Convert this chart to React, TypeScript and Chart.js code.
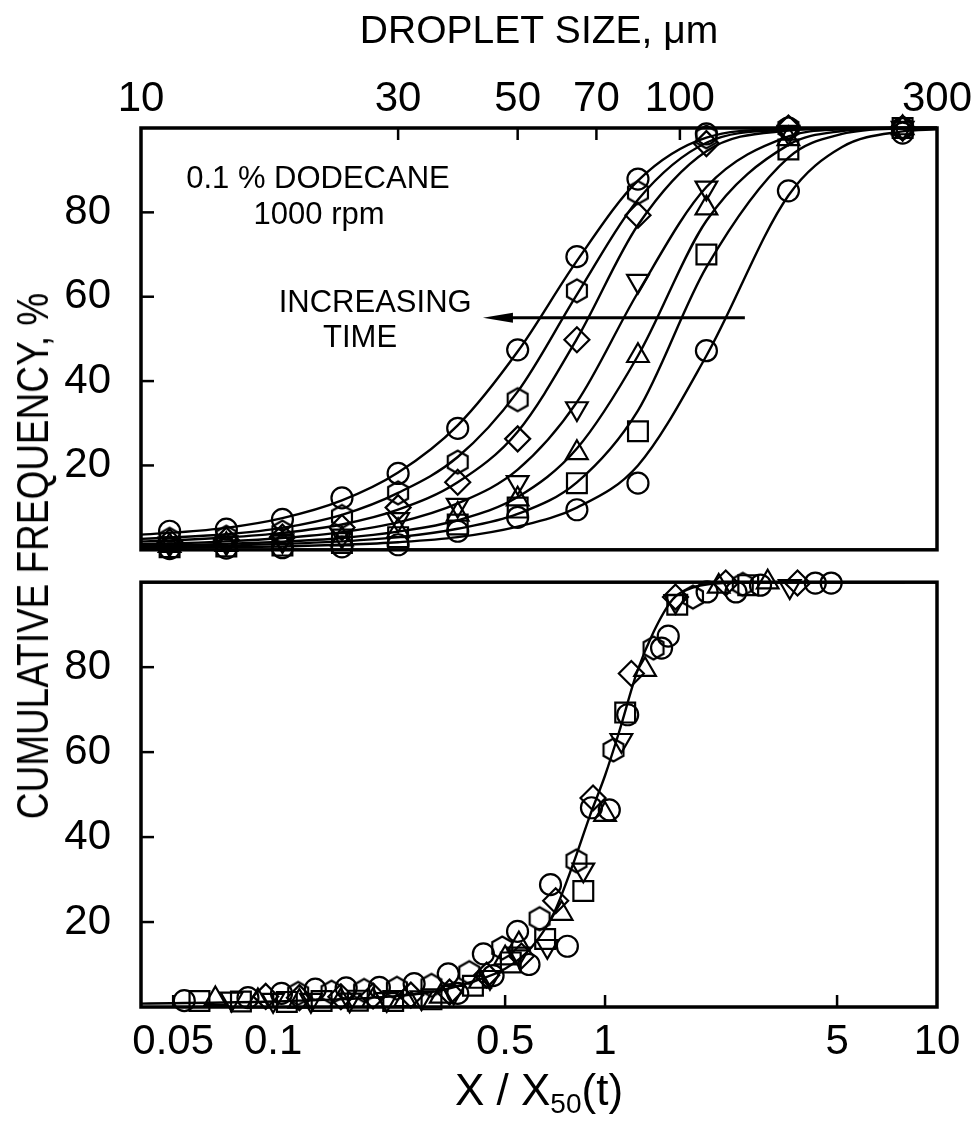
import React, { useEffect, useRef } from "react";
import { Chart, registerables } from "chart.js";

Chart.register(...registerables);

// ---------------- axis ticks ----------------
const TOP_X_TICKS = [10, 30, 50, 70, 100, 300];
const TOP_X_MARKS = [30, 50, 70, 100];
const BOTTOM_X_TICKS = [0.05, 0.1, 0.5, 1, 5, 10];
const BOTTOM_X_MARKS = [0.05, 0.1, 0.5, 1, 5];
const Y_TICKS = [20, 40, 60, 80];

// ---------------- top panel: measured points (droplet size, µm) ----------------
const SIZES = [11.3, 14.4, 18.3, 23.6, 30, 38.7, 50, 64.4, 83.6, 112, 159, 259];
const TOP_CIRCLE_A = [4.4, 4.9, 7.2, 12.3, 18.1, 28.8, 47.4, 69.5, 87.9, 98.6, 100, 100];
const TOP_HEXAGON = [2.5, 3.0, 4.2, 7.9, 13.5, 20.8, 35.6, 61.4, 84.7, 97.9, 100, 100];
const TOP_DIAMOND = [1.9, 2.3, 3.0, 5.3, 10.0, 16.0, 26.3, 49.8, 79.3, 96.3, 100, 100];
const TOP_DOWN_TRI = [1.4, 1.7, 2.2, 3.3, 7.2, 10.6, 16.0, 33.5, 63.7, 85.8, 99, 100];
const TOP_UP_TRI = [1.0, 1.2, 1.6, 2.5, 4.5, 8.4, 12.0, 23.0, 46.0, 81.0, 97.4, 100];
const TOP_SQUARE = [0.6, 0.8, 1.0, 1.6, 3.0, 6.0, 10.0, 15.8, 28.1, 70.0, 94.9, 100];
const TOP_CIRCLE_G = [0.3, 0.4, 0.5, 0.7, 1.2, 4.4, 7.7, 9.5, 15.8, 47.2, 85.1, 98.8];

// ---------------- top panel: fitted curves ----------------
const CURVE_X = [10, 11.3, 14.4, 18.3, 23.6, 30, 38.7, 50, 64.4, 83.6, 112, 159, 200, 259, 300];
const CURVE_A = [3.6, 4.0, 5.2, 7.5, 11.7, 18.3, 29.5, 47, 68.5, 87.5, 97.7, 99.8, 100, 100, 100];
const CURVE_B = [2.6, 2.9, 3.7, 5.2, 8.3, 13.5, 22, 37.5, 60.5, 83, 96.5, 99.6, 99.9, 100, 100];
const CURVE_C = [2.0, 2.2, 2.9, 4.0, 6.0, 9.5, 16, 28, 50, 77, 94.5, 99.4, 99.9, 100, 100];
const CURVE_D = [1.4, 1.5, 2.0, 2.8, 4.2, 6.5, 11, 19, 35, 61, 86, 98, 99.7, 100, 100];
const CURVE_E = [1.0, 1.1, 1.4, 1.9, 2.8, 4.3, 7, 12.5, 24, 46, 78, 96, 99.3, 100, 100];
const CURVE_F = [0.7, 0.8, 1.0, 1.4, 2.0, 3.0, 5.0, 8.5, 16, 33, 67, 93, 98.6, 99.9, 100];
const CURVE_G = [0.4, 0.45, 0.6, 0.8, 1.2, 1.8, 3.0, 5.5, 10, 20, 46, 84, 95.5, 99.2, 99.7];

// ---------------- bottom panel: normalised points (X / X50) ----------------
const BOT_CIRCLE_U = [0.054, 0.084, 0.106, 0.134, 0.166, 0.209, 0.266, 0.337, 0.36, 0.43, 0.46, 0.545, 0.59, 0.685, 0.77, 0.91, 1.03, 1.17, 1.48, 1.55, 2.03, 2.48, 2.94, 4.3, 4.8];
const BOT_CIRCLE_V = [1.5, 2.2, 3.2, 4.2, 4.5, 4.6, 5.5, 7.8, 3.2, 12.5, 7.4, 17.8, 10, 28.8, 14.3, 46.9, 46.4, 68.8, 84.5, 87.3, 97.7, 97.7, 99.3, 99.8, 99.8];
const BOT_HEX_U = [0.119, 0.15, 0.188, 0.236, 0.3, 0.39, 0.49, 0.635, 0.82, 1.06, 1.4, 1.84, 2.6];
const BOT_HEX_V = [3.2, 3.5, 3.9, 4.4, 5.1, 8.1, 13.9, 20.8, 34.4, 60.5, 84.5, 96.5, 99.5];
const BOT_DIAMOND_U = [0.095, 0.12, 0.16, 0.2, 0.26, 0.34, 0.44, 0.56, 0.71, 0.92, 1.2, 1.63, 2.31, 3.8];
const BOT_DIAMOND_V = [2.5, 2.2, 2.4, 2.6, 2.8, 3.5, 7.5, 12, 25, 49.2, 78.5, 96.5, 99.8, 99.8];
const BOT_DOWN_U = [0.075, 0.1, 0.13, 0.17, 0.22, 0.28, 0.35, 0.45, 0.55, 0.67, 0.86, 1.12, 1.63, 3.6];
const BOT_DOWN_V = [1.9, 1.6, 1.6, 1.7, 1.8, 2.2, 3.5, 7.0, 12.5, 14.3, 32.3, 62.8, 95.5, 99];
const BOT_UP_U = [0.067, 0.09, 0.12, 0.16, 0.2, 0.25, 0.32, 0.42, 0.5, 0.55, 0.74, 1.0, 1.32, 2.2, 3.09];
const BOT_UP_V = [1.9, 1.4, 1.3, 1.5, 1.5, 1.7, 2.5, 6.0, 11.5, 14.8, 22, 45.3, 79.4, 99, 100];
const BOT_SQUARE_U = [0.06, 0.08, 0.11, 0.14, 0.18, 0.23, 0.3, 0.4, 0.52, 0.66, 0.86, 1.15, 1.65, 2.7];
const BOT_SQUARE_V = [1.4, 1.3, 1.2, 1.4, 1.5, 1.4, 1.8, 5.0, 10.5, 16, 27.3, 69.3, 94.7, 99.3];

// ---------------- bottom panel: master curve ----------------
const BOT_CURVE_U = [0.04, 0.1, 0.2, 0.3, 0.4, 0.5, 0.6, 0.7, 0.8, 0.9, 1.0, 1.1, 1.25, 1.4, 1.6, 1.8, 2.0, 2.5, 3, 5, 8];
const BOT_CURVE_V = [0.8, 1.3, 2.2, 3.5, 6, 9, 14, 22, 33.5, 45, 54.5, 64.5, 79, 88.3, 96, 98.5, 99.4, 99.9, 100, 100, 100];

// ---------------- styling ----------------
const AXIS_FONT = "'Liberation Sans', Arial, Helvetica, sans-serif";
const NOTE_FONT = "'Liberation Sans', Arial, Helvetica, sans-serif";
const INK = "#000";

const NOTES = [
  { text: "0.1 % DODECANE", x: 21.3, y: 87.7 },
  { text: "1000 rpm", x: 21.4, y: 79.3 },
  { text: "INCREASING", x: 27.2, y: 58.4 },
  { text: "TIME", x: 25.5, y: 50.2 },
];
const ARROW = { from: 132, to: 43.1, y: 55 };

function pts(xs: number[], ys: number[]) {
  return xs.map((x, i) => ({ x, y: ys[i] }));
}

function hexagonCanvas(r: number, lw: number) {
  const size = Math.ceil(2 * r + lw + 4);
  const c = document.createElement("canvas");
  c.width = size;
  c.height = size;
  const g = c.getContext("2d")!;
  g.strokeStyle = INK;
  g.lineWidth = lw;
  g.beginPath();
  for (let i = 0; i < 6; i++) {
    const a = Math.PI / 2 + (i * Math.PI) / 3;
    const px = size / 2 + r * Math.cos(a);
    const py = size / 2 + r * Math.sin(a);
    if (i === 0) g.moveTo(px, py);
    else g.lineTo(px, py);
  }
  g.closePath();
  g.stroke();
  return c;
}

function markerStyles() {
  const hex = hexagonCanvas(11.5, 2.2);
  return {
    circle: { pointStyle: "circle", pointRadius: 10.5, pointRotation: 0 },
    hexagon: { pointStyle: hex, pointRadius: 12, pointRotation: 0 },
    diamond: { pointStyle: "rectRot", pointRadius: 12.5, pointRotation: 0 },
    down: { pointStyle: "triangle", pointRadius: 12.5, pointRotation: 180 },
    up: { pointStyle: "triangle", pointRadius: 12.5, pointRotation: 0 },
    square: { pointStyle: "rect", pointRadius: 14, pointRotation: 0 },
  } as Record<string, any>;
}

function markerSet(label: string, data: { x: number; y: number }[], m: any) {
  return {
    label,
    data,
    showLine: false,
    borderColor: INK,
    pointBorderColor: INK,
    pointBackgroundColor: "rgba(0,0,0,0)",
    pointBorderWidth: 2.2,
    pointHoverRadius: m.pointRadius,
    clip: false,
    ...m,
  };
}

function curveSet(label: string, data: { x: number; y: number }[]) {
  return {
    label,
    data,
    showLine: true,
    borderColor: INK,
    borderWidth: 2.4,
    pointRadius: 0,
    pointHoverRadius: 0,
    cubicInterpolationMode: "monotone",
    fill: false,
    clip: false,
  };
}

function framePlugin(xMarks: number[], edge: "top" | "bottom") {
  return {
    id: "frameTicks",
    afterDatasetsDraw(chart: any) {
      const { ctx, chartArea: a, scales } = chart;
      ctx.save();
      ctx.strokeStyle = INK;
      ctx.lineWidth = 2.5;
      for (const v of xMarks) {
        const px = scales.x.getPixelForValue(v);
        ctx.beginPath();
        if (edge === "top") {
          ctx.moveTo(px, a.top);
          ctx.lineTo(px, a.top + 12);
        } else {
          ctx.moveTo(px, a.bottom);
          ctx.lineTo(px, a.bottom - 12);
        }
        ctx.stroke();
      }
      for (const v of Y_TICKS) {
        const py = scales.y.getPixelForValue(v);
        ctx.beginPath();
        ctx.moveTo(a.left, py);
        ctx.lineTo(a.left + 13, py);
        ctx.stroke();
      }
      ctx.lineWidth = 3.5;
      ctx.strokeRect(a.left, a.top, a.right - a.left, a.bottom - a.top);
      ctx.restore();
    },
  };
}

const notesPlugin = {
  id: "notes",
  afterDatasetsDraw(chart: any) {
    const { ctx, scales } = chart;
    ctx.save();
    ctx.fillStyle = INK;
    ctx.font = `31px ${NOTE_FONT}`;
    ctx.textAlign = "center";
    ctx.textBaseline = "middle";
    for (const n of NOTES) {
      ctx.fillText(n.text, scales.x.getPixelForValue(n.x), scales.y.getPixelForValue(n.y));
    }
    const x0 = scales.x.getPixelForValue(ARROW.from);
    const x1 = scales.x.getPixelForValue(ARROW.to);
    const y = scales.y.getPixelForValue(ARROW.y);
    ctx.strokeStyle = INK;
    ctx.lineWidth = 3;
    ctx.beginPath();
    ctx.moveTo(x0, y);
    ctx.lineTo(x1 + 20, y);
    ctx.stroke();
    ctx.beginPath();
    ctx.moveTo(x1, y);
    ctx.lineTo(x1 + 30, y - 5);
    ctx.lineTo(x1 + 30, y + 5);
    ctx.closePath();
    ctx.fill();
    ctx.restore();
  },
};

function yScale() {
  return {
    type: "linear",
    min: 0,
    max: 100,
    afterBuildTicks: (s: any) => {
      s.ticks = Y_TICKS.map((v) => ({ value: v }));
    },
    afterFit: (s: any) => {
      s.width = 141;
      s.paddingTop = 0;
      s.paddingBottom = 0;
    },
    ticks: {
      callback: (v: any) => String(v),
      font: { family: AXIS_FONT, size: 42 },
      color: INK,
      padding: 30,
      autoSkip: false,
    },
    grid: { display: false, drawTicks: false },
    border: { display: false },
  };
}

function topConfig(): any {
  const m = markerStyles();
  return {
    type: "scatter",
    data: {
      datasets: [
        curveSet("fit 1", pts(CURVE_X, CURVE_A)),
        curveSet("fit 2", pts(CURVE_X, CURVE_B)),
        curveSet("fit 3", pts(CURVE_X, CURVE_C)),
        curveSet("fit 4", pts(CURVE_X, CURVE_D)),
        curveSet("fit 5", pts(CURVE_X, CURVE_E)),
        curveSet("fit 6", pts(CURVE_X, CURVE_F)),
        curveSet("fit 7", pts(CURVE_X, CURVE_G)),
        markerSet("t7", pts(SIZES, TOP_CIRCLE_A), m.circle),
        markerSet("t6", pts(SIZES, TOP_HEXAGON), m.hexagon),
        markerSet("t5", pts(SIZES, TOP_DIAMOND), m.diamond),
        markerSet("t4", pts(SIZES, TOP_DOWN_TRI), m.down),
        markerSet("t3", pts(SIZES, TOP_UP_TRI), m.up),
        markerSet("t2", pts(SIZES, TOP_SQUARE), m.square),
        markerSet("t1", pts(SIZES, TOP_CIRCLE_G), m.circle),
      ],
    },
    options: {
      animation: false,
      responsive: false,
      events: [],
      layout: { padding: { left: 0, right: 34, top: 0, bottom: 10 } },
      plugins: { legend: { display: false }, tooltip: { enabled: false } },
      scales: {
        x: {
          type: "logarithmic",
          position: "top",
          min: 10,
          max: 300,
          afterBuildTicks: (s: any) => {
            s.ticks = TOP_X_TICKS.map((v) => ({ value: v }));
          },
          afterFit: (s: any) => {
            s.height = 128;
            s.paddingLeft = 0;
            s.paddingRight = 0;
          },
          ticks: {
            callback: (v: any) => String(v),
            font: { family: AXIS_FONT, size: 42 },
            color: INK,
            padding: 3,
            autoSkip: false,
            maxRotation: 0,
            minRotation: 0,
          },
          title: {
            display: true,
            text: "DROPLET SIZE, μm",
            font: { family: AXIS_FONT, size: 39 },
            color: INK,
            padding: { top: 9, bottom: 0 },
          },
          grid: { display: false, drawTicks: false },
          border: { display: false },
        },
        y: yScale(),
      },
    },
    plugins: [framePlugin(TOP_X_MARKS, "top"), notesPlugin],
  };
}

function bottomConfig(): any {
  const m = markerStyles();
  return {
    type: "scatter",
    data: {
      datasets: [
        curveSet("fit", pts(BOT_CURVE_U, BOT_CURVE_V)),
        markerSet("circles", pts(BOT_CIRCLE_U, BOT_CIRCLE_V), m.circle),
        markerSet("hexagons", pts(BOT_HEX_U, BOT_HEX_V), m.hexagon),
        markerSet("diamonds", pts(BOT_DIAMOND_U, BOT_DIAMOND_V), m.diamond),
        markerSet("down triangles", pts(BOT_DOWN_U, BOT_DOWN_V), m.down),
        markerSet("up triangles", pts(BOT_UP_U, BOT_UP_V), m.up),
        markerSet("squares", pts(BOT_SQUARE_U, BOT_SQUARE_V), m.square),
      ],
    },
    options: {
      animation: false,
      responsive: false,
      events: [],
      layout: { padding: { left: 0, right: 34, top: 8, bottom: 0 } },
      plugins: { legend: { display: false }, tooltip: { enabled: false } },
      scales: {
        x: {
          type: "logarithmic",
          position: "bottom",
          min: 0.04,
          max: 10,
          afterBuildTicks: (s: any) => {
            s.ticks = BOTTOM_X_TICKS.map((v) => ({ value: v }));
          },
          afterFit: (s: any) => {
            s.height = 127;
            s.paddingLeft = 0;
            s.paddingRight = 0;
          },
          ticks: {
            callback: (v: any) => String(v),
            font: { family: AXIS_FONT, size: 42 },
            color: INK,
            padding: 10,
            autoSkip: false,
            maxRotation: 0,
            minRotation: 0,
          },
          grid: { display: false, drawTicks: false },
          border: { display: false },
        },
        y: yScale(),
      },
    },
    plugins: [framePlugin(BOTTOM_X_MARKS, "bottom")],
  };
}

export default function App() {
  const topRef = useRef<HTMLCanvasElement | null>(null);
  const botRef = useRef<HTMLCanvasElement | null>(null);

  useEffect(() => {
    const c1 = new Chart(topRef.current!, topConfig());
    const c2 = new Chart(botRef.current!, bottomConfig());
    return () => {
      c1.destroy();
      c2.destroy();
    };
  }, []);

  return (
    <div
      style={{
        position: "absolute",
        left: 0,
        top: 0,
        width: 971,
        height: 1134,
        background: "#fff",
        overflow: "hidden",
      }}
    >
      <canvas
        ref={topRef}
        width={971}
        height={566}
        style={{ position: "absolute", left: 0, top: 0, width: 971, height: 566 }}
      />
      <canvas
        ref={botRef}
        width={971}
        height={568}
        style={{ position: "absolute", left: 0, top: 566, width: 971, height: 568 }}
      />
      <div
        style={{
          position: "absolute",
          left: 33,
          top: 556,
          transform: "translate(-50%, -50%) rotate(-90deg) scaleX(0.84)",
          whiteSpace: "nowrap",
          fontFamily: AXIS_FONT,
          fontSize: 44,
          lineHeight: 1,
          color: INK,
        }}
      >
        CUMULATIVE FREQUENCY, %
      </div>
      <div
        style={{
          position: "absolute",
          left: 0,
          width: 1078,
          top: 1068,
          textAlign: "center",
          whiteSpace: "nowrap",
          fontFamily: AXIS_FONT,
          fontSize: 44,
          lineHeight: 1,
          color: INK,
        }}
      >
        X / X<sub style={{ fontSize: 28, verticalAlign: -8, lineHeight: 0 }}>50</sub>(t)
      </div>
    </div>
  );
}
